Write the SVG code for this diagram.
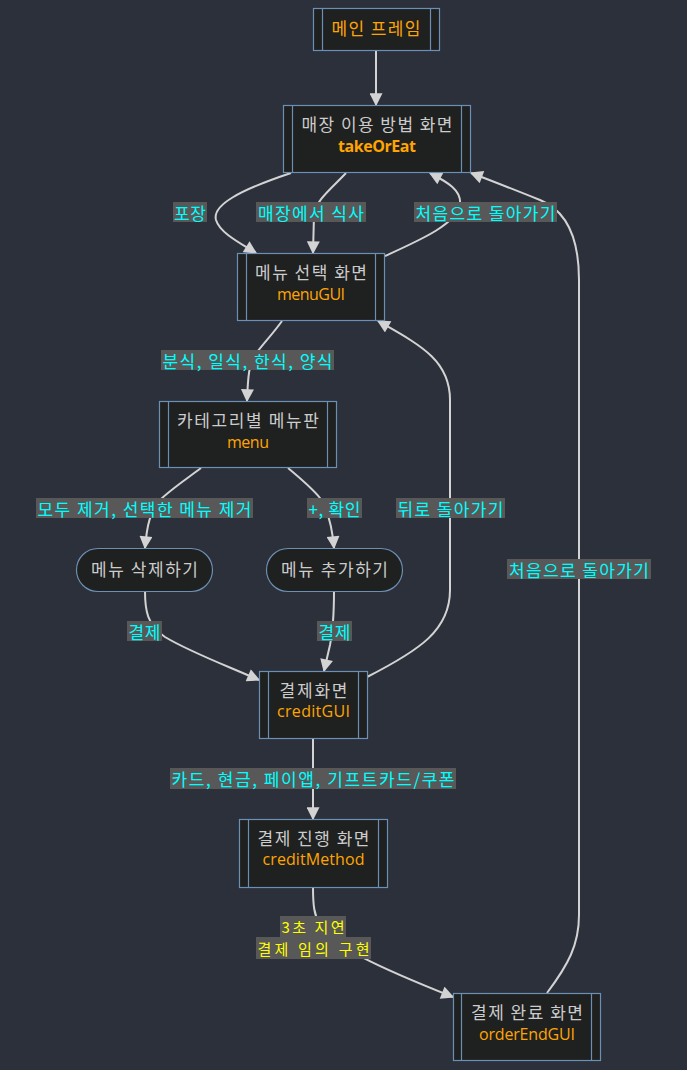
<svg xmlns="http://www.w3.org/2000/svg" width="687" height="1070" viewBox="0 0 687 1070">
<defs>
<marker id="arr" markerUnits="userSpaceOnUse" viewBox="0 0 10 10" refX="9" refY="5" markerWidth="14" markerHeight="13" orient="auto">
<path d="M0,0 L10,5 L0,10 z" fill="#d3d3d3"/>
</marker>
<style>
.node rect{fill:#1f2020;stroke:#6c8fb3;stroke-width:1.2}
.node line{stroke:#6c8fb3;stroke-width:1.2}
.ko{font-family:"Noto Sans CJK KR","Noto Sans",sans-serif;font-size:17px;fill:#cccccc;text-anchor:middle}
.id{font-family:"Open Sans","Noto Sans CJK KR",sans-serif;font-size:16px;fill:#ffa500;text-anchor:middle}
.edges path{fill:none;stroke:#d3d3d3;stroke-width:2;marker-end:url(#arr)}
.lbl rect{fill:#585858}
.lbl text{font-family:"Noto Sans CJK KR","Noto Sans",sans-serif;font-size:17px;fill:#00ffff;text-anchor:middle;dominant-baseline:central}
.lbl text.y{fill:#ffff00;font-size:15px}
</style>
</defs>
<rect x="0" y="0" width="687" height="1070" fill="#2b303b"/>

<g class="edges" id="connectors">
<path d="M376,50 L376,105"/>
<path d="M291,173 C240,190 212,205 216,220 C220,233 240,243 256,253"/>
<path d="M346,173 C330,190 316,200 314,215 L313,253"/>
<path d="M385,256 C420,240 455,225 460,205 C462,190 447,182 430,173"/>
<path d="M547,993 C568,965 579,945 579,915 L579,280 C579,235 565,210 540,200 C520,192 495,182 471,173"/>
<path d="M282,321 C272,335 262,345 255,355 C249,365 248,375 247,401"/>
<path d="M201,468 C185,480 170,490 160,500 C150,512 147,525 145,548"/>
<path d="M288,468 C300,478 312,488 320,498 C328,510 332,525 334,548"/>
<path d="M367,677 C420,650 450,630 450,590 L450,400 C450,360 420,345 378,321"/>
<path d="M145,591 C145,610 147,625 165,637 C190,652 225,665 259,680"/>
<path d="M334,591 C334,615 333,630 330,645 L324,671"/>
<path d="M313,738 L313,819"/>
<path d="M313,887 C313,905 314,915 320,925 C330,945 380,968 453,997"/>
</g>

<g class="lbl" id="edge-labels">
<rect x="173" y="202" width="34" height="20"/><text x="190" y="212" textLength="32" lengthAdjust="spacing">포장</text>
<rect x="256" y="202" width="110" height="20"/><text x="311" y="212" textLength="106" lengthAdjust="spacing">매장에서 식사</text>
<rect x="414" y="202" width="143" height="20"/><text x="485.5" y="212" textLength="140" lengthAdjust="spacing">처음으로 돌아가기</text>
<rect x="161" y="350" width="173" height="20"/><text x="247.5" y="360" textLength="170" lengthAdjust="spacing">분식, 일식, 한식, 양식</text>
<rect x="36" y="498" width="217" height="20"/><text x="144.5" y="508" textLength="214" lengthAdjust="spacing">모두 제거, 선택한 메뉴 제거</text>
<rect x="307" y="498" width="55" height="20"/><text x="334.5" y="508" textLength="52" lengthAdjust="spacing">+, 확인</text>
<rect x="396" y="498" width="109" height="20"/><text x="450.5" y="508" textLength="106" lengthAdjust="spacing">뒤로 돌아가기</text>
<rect x="507" y="559" width="144" height="20"/><text x="579" y="569" textLength="140" lengthAdjust="spacing">처음으로 돌아가기</text>
<rect x="127" y="621" width="35" height="20"/><text x="144.5" y="631" textLength="32" lengthAdjust="spacing">결제</text>
<rect x="317" y="621" width="35" height="20"/><text x="334.5" y="631" textLength="32" lengthAdjust="spacing">결제</text>
<rect x="170" y="768" width="286" height="21"/><text x="313" y="778.5" textLength="283" lengthAdjust="spacing">카드, 현금, 페이앱, 기프트카드/쿠폰</text>
<rect x="280" y="916" width="66" height="21"/><text class="y" x="313" y="926" textLength="63" lengthAdjust="spacing">3초 지연</text>
<rect x="256" y="937" width="115" height="22"/><text class="y" x="313.5" y="948" textLength="112" lengthAdjust="spacing">결제 임의 구현</text>
</g>

<g class="node" id="mainFrame">
<rect x="313.5" y="8.5" width="126" height="42"/>
<line x1="322.5" y1="8.5" x2="322.5" y2="50.5"/><line x1="430.5" y1="8.5" x2="430.5" y2="50.5"/>
<text class="ko" x="376" y="35" style="fill:#ffa500" textLength="89" lengthAdjust="spacing">메인 프레임</text>
</g>

<g class="node" id="takeOrEat">
<rect x="283.5" y="105.5" width="187" height="67"/>
<line x1="292.5" y1="105.5" x2="292.5" y2="172.5"/><line x1="461.5" y1="105.5" x2="461.5" y2="172.5"/>
<text class="ko" x="377" y="131" textLength="151" lengthAdjust="spacing">매장 이용 방법 화면</text>
<text class="id" x="377" y="152" font-weight="bold" textLength="78" lengthAdjust="spacing">takeOrEat</text>
</g>

<g class="node" id="menuGUI">
<rect x="237.5" y="253.5" width="147" height="67"/>
<line x1="246.5" y1="253.5" x2="246.5" y2="320.5"/><line x1="375.5" y1="253.5" x2="375.5" y2="320.5"/>
<text class="ko" x="311" y="279" textLength="112" lengthAdjust="spacing">메뉴 선택 화면</text>
<text class="id" x="311" y="300" textLength="68" lengthAdjust="spacing">menuGUI</text>
</g>

<g class="node" id="menu">
<rect x="159.5" y="401.5" width="177" height="66"/>
<line x1="168.5" y1="401.5" x2="168.5" y2="467.5"/><line x1="327.5" y1="401.5" x2="327.5" y2="467.5"/>
<text class="ko" x="248" y="427" textLength="142" lengthAdjust="spacing">카테고리별 메뉴판</text>
<text class="id" x="248" y="448" textLength="42" lengthAdjust="spacing">menu</text>
</g>

<g class="node" id="deleteMenu">
<rect x="76.5" y="548.5" width="136" height="43" rx="21.5" ry="21.5"/>
<text class="ko" x="144.5" y="576" textLength="107" lengthAdjust="spacing">메뉴 삭제하기</text>
</g>

<g class="node" id="addMenu">
<rect x="266.5" y="548.5" width="136" height="43" rx="21.5" ry="21.5"/>
<text class="ko" x="334.5" y="576" textLength="107" lengthAdjust="spacing">메뉴 추가하기</text>
</g>

<g class="node" id="creditGUI">
<rect x="259.5" y="671.5" width="108" height="67"/>
<line x1="268.5" y1="671.5" x2="268.5" y2="738.5"/><line x1="358.5" y1="671.5" x2="358.5" y2="738.5"/>
<text class="ko" x="313.5" y="697" textLength="68" lengthAdjust="spacing">결제화면</text>
<text class="id" x="313.5" y="717" textLength="73" lengthAdjust="spacing">creditGUI</text>
</g>

<g class="node" id="creditMethod">
<rect x="239.5" y="819.5" width="148" height="68"/>
<line x1="248.5" y1="819.5" x2="248.5" y2="887.5"/><line x1="378.5" y1="819.5" x2="378.5" y2="887.5"/>
<text class="ko" x="313.5" y="845" textLength="112" lengthAdjust="spacing">결제 진행 화면</text>
<text class="id" x="313.5" y="865" textLength="102" lengthAdjust="spacing">creditMethod</text>
</g>

<g class="node" id="orderEndGUI">
<rect x="453.5" y="993.5" width="147" height="67"/>
<line x1="461.5" y1="993.5" x2="461.5" y2="1060.5"/><line x1="591.5" y1="993.5" x2="591.5" y2="1060.5"/>
<text class="ko" x="527" y="1019" textLength="112" lengthAdjust="spacing">결제 완료 화면</text>
<text class="id" x="527" y="1040" textLength="96" lengthAdjust="spacing">orderEndGUI</text>
</g>
</svg>
